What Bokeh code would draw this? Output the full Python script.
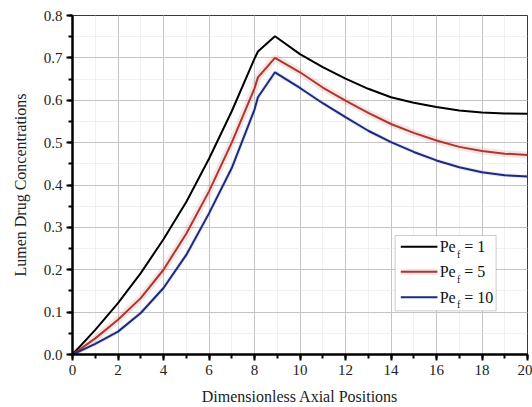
from bokeh.plotting import figure
from bokeh.models import Range1d, FixedTicker, Label, BoxAnnotation, PrintfTickFormatter
from bokeh.embed import file_html
from bokeh.resources import INLINE

# ---- data ----
x_pos = [0, 1, 2, 3, 4, 5, 6, 7, 8, 8.15, 8.9, 10, 11, 12, 13, 14, 15, 16, 17, 18, 19, 20]
c_pe1 = [0, 0.058, 0.121, 0.192, 0.272, 0.36, 0.462, 0.574, 0.698, 0.715, 0.751,
         0.709, 0.678, 0.651, 0.627, 0.607, 0.594, 0.584, 0.576, 0.571, 0.569, 0.568]
c_pe5 = [0, 0.038, 0.082, 0.133, 0.200, 0.285, 0.385, 0.50, 0.628, 0.654, 0.700,
         0.666, 0.630, 0.599, 0.570, 0.544, 0.523, 0.505, 0.490, 0.480, 0.474, 0.471]
c_pe10 = [0, 0.025, 0.054, 0.098, 0.157, 0.235, 0.333, 0.44, 0.578, 0.607, 0.666,
          0.629, 0.593, 0.560, 0.528, 0.501, 0.478, 0.458, 0.442, 0.430, 0.423, 0.420]
series_names = ["1", "5", "10"]
series_colors = ["#000000", "#b0352c", "#1d2a7e"]
x_ticks = list(range(0, 21, 2))
y_ticks = [0.0, 0.1, 0.2, 0.3, 0.4, 0.5, 0.6, 0.7, 0.8]

FONT = "Liberation Serif"

p = figure(width=532, height=407, output_backend="svg", toolbar_location=None,
           x_range=Range1d(0, 20), y_range=Range1d(0, 0.8),
           min_border_left=72, min_border_right=5, min_border_top=15, min_border_bottom=53)

p.background_fill_color = "white"
p.border_fill_color = "white"
p.outline_line_color = "#3a3a3a"
p.outline_line_width = 1

# grids
p.xgrid.ticker = FixedTicker(ticks=x_ticks, minor_ticks=list(range(0, 21)))
p.ygrid.ticker = FixedTicker(ticks=y_ticks, minor_ticks=[i * 0.05 for i in range(17)])
for g in (p.xgrid, p.ygrid):
    g.grid_line_color = "#c4c4c4"
    g.grid_line_width = 1
    g.minor_grid_line_color = "#e2e2e2"
    g.minor_grid_line_dash = "1 1"
    g.minor_grid_line_width = 1

# axes
for ax in (p.xaxis, p.yaxis):
    ax.axis_line_width = 2.5
    ax.axis_line_color = "black"
    ax.major_tick_line_width = 2
    ax.minor_tick_line_width = 2
    ax.major_tick_line_color = "black"
    ax.minor_tick_line_color = "black"
    ax.major_tick_out = 6
    ax.major_tick_in = 0
    ax.minor_tick_out = 4
    ax.minor_tick_in = 0
    ax.major_label_text_font = FONT
    ax.major_label_text_font_size = "15px"
    ax.major_label_text_color = "#222222"
    ax.axis_label_text_font = FONT
    ax.axis_label_text_font_size = "16px"
    ax.axis_label_text_font_style = "normal"
    ax.axis_label_text_color = "#222222"

p.xaxis.ticker = FixedTicker(ticks=x_ticks, minor_ticks=list(range(0, 21)))
p.yaxis.ticker = FixedTicker(ticks=y_ticks, minor_ticks=[i * 0.05 for i in range(17)])
p.yaxis.formatter = PrintfTickFormatter(format="%.1f")
p.xaxis.axis_label = "Dimensionless Axial Positions"
p.yaxis.axis_label = "Lumen Drug Concentrations"
p.xaxis.major_label_standoff = 4
p.yaxis.major_label_standoff = 4
p.xaxis.axis_label_standoff = 10
p.yaxis.axis_label_standoff = 12

# glow under the coloured lines
p.line(x_pos, c_pe5, line_color=series_colors[1], line_width=7, line_alpha=0.12)
p.line(x_pos, c_pe10, line_color=series_colors[2], line_width=4, line_alpha=0.10)

for ys, col in zip([c_pe1, c_pe5, c_pe10], series_colors):
    p.line(x_pos, ys, line_color=col, line_width=2)

# ---- custom legend (subscript f) ----
leg_left, leg_right, leg_top, leg_bottom = 14.18, 18.62, 0.281, 0.103
p.add_layout(BoxAnnotation(left=leg_left, right=leg_right, top=leg_top, bottom=leg_bottom,
                           fill_color="white", fill_alpha=1.0,
                           line_color="#555555", line_width=1, level="annotation"))
row_y = [0.254, 0.195, 0.135]
for name, col, yy in zip(series_names, series_colors, row_y):
    if col == series_colors[1]:
        p.line([14.43, 16.04], [yy, yy], line_color=col, line_width=6, line_alpha=0.12, level="overlay")
    p.line([14.43, 16.04], [yy, yy], line_color=col, line_width=2, level="overlay")
    p.add_layout(Label(x=16.14, y=yy, text="Pe", text_font=FONT, text_font_size="16px",
                       text_baseline="middle", text_color="#111111", level="overlay"))
    p.add_layout(Label(x=16.9, y=yy - 0.017, text="f", text_font=FONT, text_font_size="10px",
                       text_baseline="middle", text_color="#111111", level="overlay"))
    p.add_layout(Label(x=17.22, y=yy, text="= " + name, text_font=FONT, text_font_size="16px",
                       text_baseline="middle", text_color="#111111", level="overlay"))

open("out.html", "w").write(file_html(p, INLINE))
